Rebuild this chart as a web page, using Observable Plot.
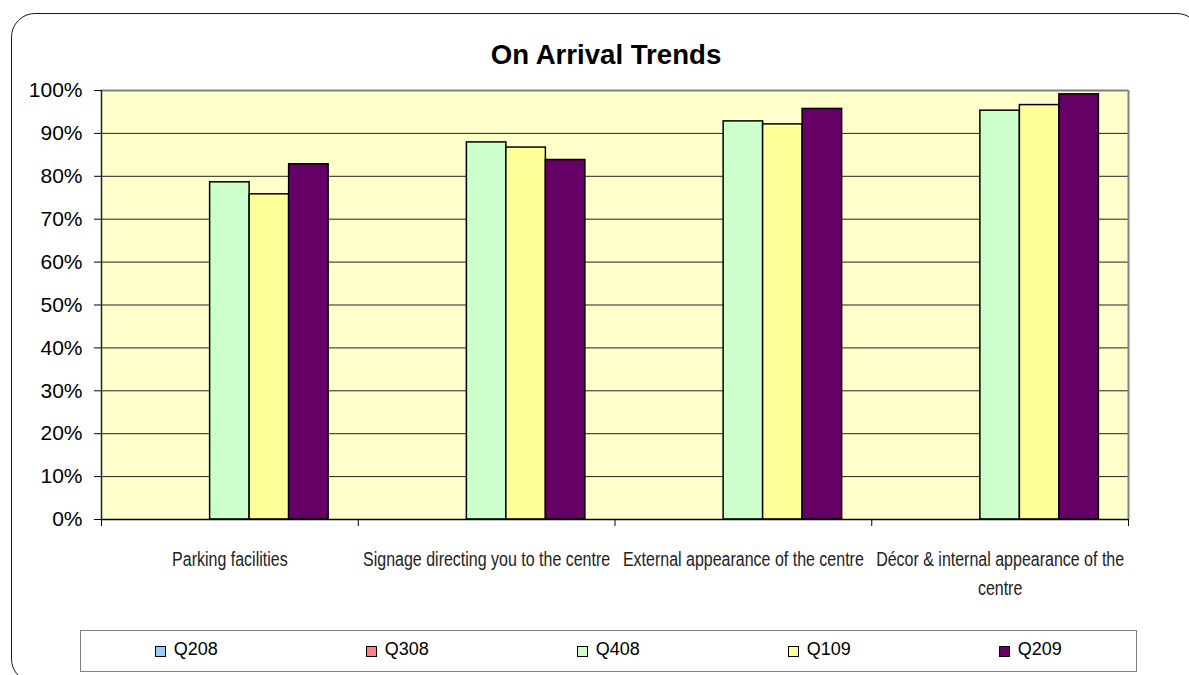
<!DOCTYPE html>
<html>
<head>
<meta charset="utf-8">
<script src="https://cdn.jsdelivr.net/npm/d3@7"></script>
<script src="https://cdn.jsdelivr.net/npm/@observablehq/plot@0.6"></script>
<style>
  html, body { margin: 0; padding: 0; background: #fff; }
  body { width: 1189px; height: 675px; overflow: hidden; position: relative; font-family: "Liberation Sans", Arial, sans-serif; }
  #frame { position: absolute; left: 11px; top: 13px; width: 1188px; height: 668px; border: 1.6px solid #1a1a1a; border-radius: 24px; }
  #title { position: absolute; left: 606px; top: 41px; transform: translateX(-50%); font-size: 27.6px; line-height: 1; font-weight: bold; color: #000; white-space: nowrap; }
  #chart { position: absolute; left: 0; top: 80px; }
  #legend { position: absolute; left: 80px; top: 630px; width: 1057px; height: 42px; box-sizing: border-box; border: 1.5px solid #808080; display: flex; padding-top: 9px; }
  .item { flex: 1; display: flex; justify-content: center; align-items: flex-start; font-size: 18px; line-height: 1; color: #000; }
  .sw { width: 9px; height: 9px; border: 1.2px solid #000; margin-top: 5.5px; margin-right: 7.5px; }
</style>
</head>
<body>
<div id="frame"></div>
<div id="title">On Arrival Trends</div>
<div id="chart"></div>
<div id="legend"></div>
<script>
// ---- data ----
const categories = [
  "Parking facilities",
  "Signage directing you to the centre",
  "External appearance of the centre",
  "Décor & internal appearance of the centre"
];
const tickLabels = [
  "Parking facilities",
  "Signage directing you to the centre",
  "External appearance of the centre",
  "Décor & internal appearance of the\ncentre"
];
const series = ["Q208", "Q308", "Q408", "Q109", "Q209"];
const seriesColors = ["#99CCFF", "#FF8080", "#CCFFCC", "#FFFF99", "#660066"];
const Q208 = [null, null, null, null];
const Q308 = [null, null, null, null];
const Q408 = [78.6, 87.9, 92.8, 95.3];
const Q109 = [75.8, 86.7, 92.1, 96.6];
const Q209 = [82.8, 83.8, 95.7, 99.1];
const yTicks = [0, 10, 20, 30, 40, 50, 60, 70, 80, 90, 100];
const gridTicks = [10, 20, 30, 40, 50, 60, 70, 80, 90];

// ---- build table ----
const valuesBySeries = [Q208, Q308, Q408, Q109, Q209];
const rows = [];
series.forEach((s, si) => {
  valuesBySeries[si].forEach((v, ci) => {
    if (v != null) rows.push({category: categories[ci], ci, series: s, si, value: v});
  });
});
const gapWidth = 1.5; // Excel-style gap width (150%)
const slots = series.length + gapWidth;
const boundaries = d3.range(categories.length + 1);

const chart = Plot.plot({
  width: 1189,
  height: 520,
  marginTop: 10,
  marginLeft: 101,
  marginRight: 61,
  marginBottom: 81,
  style: {fontFamily: "'Liberation Sans', Arial, sans-serif", fontSize: "21px", color: "#000", background: "transparent", overflow: "visible"},
  x: {domain: [0, categories.length]},
  y: {domain: [0, 100]},
  color: {domain: series, range: seriesColors},
  marks: [
    Plot.frame({fill: "#FFFFCC", stroke: null}),
    Plot.ruleY(gridTicks, {stroke: "#222", strokeWidth: 1}),
    Plot.ruleY([100], {stroke: "#808080", strokeWidth: 2}),
    Plot.ruleX([categories.length], {stroke: "#808080", strokeWidth: 2}),
    Plot.rectY(rows, {
      x1: d => d.ci + (gapWidth / 2 + d.si) / slots,
      x2: d => d.ci + (gapWidth / 2 + d.si + 1) / slots,
      y: "value",
      fill: "series",
      stroke: "#000",
      strokeWidth: 1.5
    }),
    Plot.ruleX([0], {stroke: "#222", strokeWidth: 1.5}),
    Plot.ruleY([0], {stroke: "#000", strokeWidth: 1.5}),
    Plot.axisY({ticks: yTicks, tickFormat: d => d + "%", tickSize: 7, tickPadding: 12, label: null, fontSize: 21}),
    Plot.axisX({ticks: boundaries, tickFormat: () => "", tickSize: 7, label: null}),
    Plot.text(tickLabels, {
      x: (d, i) => i + 0.5,
      y: 0,
      dy: 26,
      lineAnchor: "top",
      lineHeight: 1.49,
      fontSize: 19.5,
      fill: "#222",
      className: "catlabel"
    })
  ]
});
// emulate a narrow (Arial Narrow-like) face by condensing the category labels horizontally
chart.querySelectorAll(".catlabel text").forEach(t => {
  const tr = t.getAttribute("transform") || "";
  t.setAttribute("transform", `${tr} scale(0.82,1)`);
});
document.getElementById("chart").appendChild(chart);

// ---- legend ----
const legend = document.getElementById("legend");
series.forEach((s, i) => {
  const item = document.createElement("div");
  item.className = "item";
  const sw = document.createElement("span");
  sw.className = "sw";
  sw.style.background = seriesColors[i];
  const label = document.createElement("span");
  label.textContent = s;
  item.appendChild(sw);
  item.appendChild(label);
  legend.appendChild(item);
});
</script>
</body>
</html>
